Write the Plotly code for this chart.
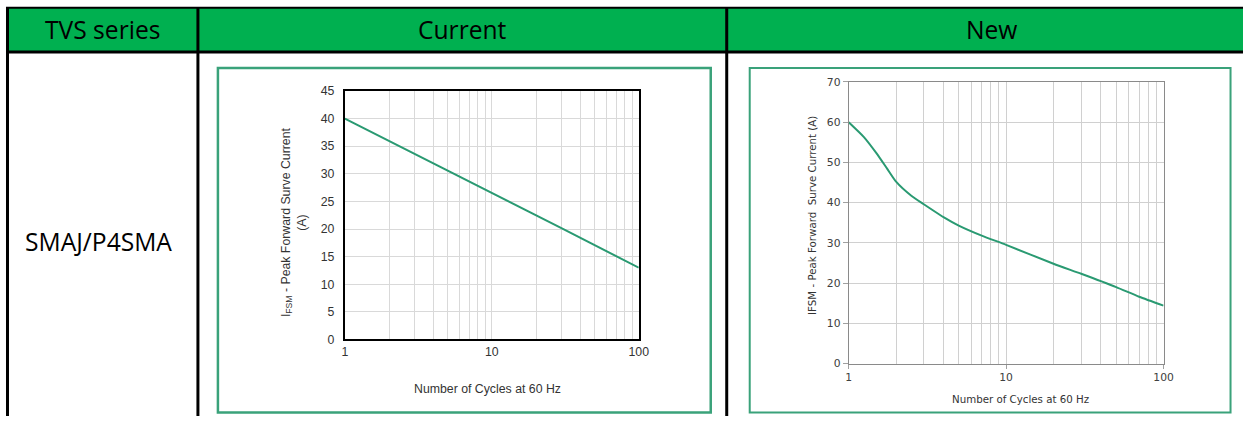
import plotly.graph_objects as go

# ---------------- data ----------------
header_labels = ["TVS series", "Current", "New"]
series_name = "SMAJ/P4SMA"

cycles_current = [1, 3, 10, 30, 100]
ifsm_current = [40, 33.6, 26.6, 20.1, 13]

cycles_new = [1, 1.25, 1.5, 1.75, 2, 2.5, 3, 4, 5, 7, 10, 20, 30, 50, 70, 100]
ifsm_new = [60, 56.3, 52.3, 48.5, 45.2, 41.7, 39.6, 36.4, 34.3, 31.8, 29.5, 24.8, 22.3, 19.0, 16.6, 14.4]

x_title = "Number of Cycles at 60 Hz"
y_title_current = "I<sub>FSM</sub> - Peak Forward Surve Current<br>(A)"
y_title_new = "IFSM - Peak Forward  Surve Current (A)"

# ---------------- geometry helpers ----------------
W, H = 1253, 423
# the photographed page is slightly inset/scaled; compensate so marks land on target pixels
SX, OX = 0.99, 2.0
SY, OY = 0.965, 7.2


def px(x):
    v = (x - OX) / SX
    return min(max(v, 0), W) / W


def py(y):
    v = (y - OY) / SY
    return 1 - min(max(v, 0), H) / H


FS = 1 / 0.975  # font compensation

GREEN_HDR = "#00B050"
FRAME = "#3aa27a"
LINE = "#2a9a72"

fig = go.Figure()

fig.add_trace(go.Scatter(x=cycles_current, y=ifsm_current, mode="lines",
                         line=dict(color=LINE, width=2), xaxis="x", yaxis="y",
                         showlegend=False, hoverinfo="skip"))
fig.add_trace(go.Scatter(x=cycles_new, y=ifsm_new, mode="lines",
                         line=dict(color=LINE, width=2, shape="spline", smoothing=0.6),
                         xaxis="x2", yaxis="y2", showlegend=False, hoverinfo="skip"))

shapes = [
    dict(type="rect", xref="paper", yref="paper", x0=px(7), x1=px(1260), y0=py(51), y1=py(8),
         fillcolor=GREEN_HDR, line=dict(width=0), layer="below"),
    dict(type="line", xref="paper", yref="paper", x0=px(5), x1=px(1260), y0=py(8), y1=py(8),
         line=dict(color="black", width=2)),
    dict(type="line", xref="paper", yref="paper", x0=px(5), x1=px(1260), y0=py(52), y1=py(52),
         line=dict(color="black", width=3)),
    dict(type="line", xref="paper", yref="paper", x0=px(6.5), x1=px(6.5), y0=py(7), y1=py(440),
         line=dict(color="black", width=3)),
    dict(type="line", xref="paper", yref="paper", x0=px(197), x1=px(197), y0=py(7), y1=py(440),
         line=dict(color="black", width=3)),
    dict(type="line", xref="paper", yref="paper", x0=px(726), x1=px(726), y0=py(7), y1=py(440),
         line=dict(color="black", width=3)),
    dict(type="rect", xref="paper", yref="paper", x0=px(217), x1=px(710), y0=py(412), y1=py(68),
         line=dict(color=FRAME, width=2.5), fillcolor="rgba(0,0,0,0)", layer="below"),
    dict(type="rect", xref="paper", yref="paper", x0=px(749), x1=px(1230), y0=py(412), y1=py(68),
         line=dict(color=FRAME, width=2), fillcolor="rgba(0,0,0,0)", layer="below"),
]

hdr_font = dict(family="Open Sans, Noto Sans, sans-serif", size=24 * FS, color="black")
annotations = [
    dict(text=header_labels[0], x=px(101.5), y=py(30), xref="paper", yref="paper",
         showarrow=False, font=hdr_font, xanchor="center", yanchor="middle"),
    dict(text=header_labels[1], x=px(462), y=py(30), xref="paper", yref="paper",
         showarrow=False, font=hdr_font, xanchor="center", yanchor="middle"),
    dict(text=header_labels[2], x=px(991), y=py(30), xref="paper", yref="paper",
         showarrow=False, font=hdr_font, xanchor="center", yanchor="middle"),
    dict(text=series_name, x=px(98), y=py(241), xref="paper", yref="paper",
         showarrow=False, font=hdr_font, xanchor="center", yanchor="middle"),
    dict(text=x_title, x=px(487), y=py(388), xref="paper", yref="paper", showarrow=False,
         font=dict(family="Liberation Sans, Arial", size=12 * FS, color="#333333"),
         xanchor="center", yanchor="middle"),
    dict(text=y_title_current, x=px(293), y=py(222), xref="paper", yref="paper", showarrow=False,
         textangle=-90, font=dict(family="Liberation Sans, Arial", size=12 * FS, color="#333333"),
         xanchor="center", yanchor="middle"),
    dict(text=x_title, x=px(1020), y=py(398), xref="paper", yref="paper", showarrow=False,
         font=dict(family="DejaVu Sans", size=10 * FS, color="#333333"),
         xanchor="center", yanchor="middle"),
    dict(text=y_title_new, x=px(812), y=py(215), xref="paper", yref="paper", showarrow=False,
         textangle=-90, font=dict(family="DejaVu Sans", size=10 * FS, color="#333333"),
         xanchor="center", yanchor="middle"),
]

left_tick_font = dict(family="Liberation Sans, Arial", size=12 * FS, color="#333333")
right_tick_font = dict(family="DejaVu Sans", size=10.5 * FS, color="#404040")

fig.update_layout(
    width=W, height=H,
    margin=dict(l=0, r=0, t=0, b=0),
    paper_bgcolor="white", plot_bgcolor="white",
    shapes=shapes, annotations=annotations,
    xaxis=dict(type="log", range=[0, 2], domain=[px(344), px(638)], anchor="y",
               dtick=1, showgrid=True, gridcolor="#d9d9d9", gridwidth=1,
               minor=dict(showgrid=True, gridcolor="#d9d9d9", ticks=""),
               showline=True, mirror=True, linecolor="black", linewidth=2,
               ticks="", tickfont=left_tick_font, zeroline=False),
    yaxis=dict(range=[0, 45], domain=[py(339), py(91)], anchor="x", dtick=5,
               showgrid=True, gridcolor="#d9d9d9", showline=True, mirror=True,
               linecolor="black", linewidth=2, ticks="", ticklabelstandoff=6,
               tickfont=left_tick_font, zeroline=False),
    xaxis2=dict(type="log", range=[0, 2], domain=[px(848), px(1163)], anchor="y2",
                dtick=1, showgrid=True, gridcolor="#d0d0d0",
                minor=dict(showgrid=True, gridcolor="#d0d0d0", ticks=""),
                showline=True, mirror=True, linecolor="#8a8a8a", linewidth=1,
                ticks="outside", ticklen=4, tickcolor="#a0a0a0",
                tickfont=right_tick_font, zeroline=False),
    yaxis2=dict(range=[0, 70], domain=[py(363), py(82)], anchor="x2", dtick=10,
                showgrid=True, gridcolor="#d0d0d0", showline=True, mirror=True,
                linecolor="#8a8a8a", linewidth=1, ticks="outside", ticklen=5,
                tickcolor="#a0a0a0", tickfont=right_tick_font, zeroline=False),
)

post = (
    "document.body.style.margin='0px';document.body.style.overflow='hidden';"
)
fig.write_html("out.html", config={"displayModeBar": False}, post_script=post)
